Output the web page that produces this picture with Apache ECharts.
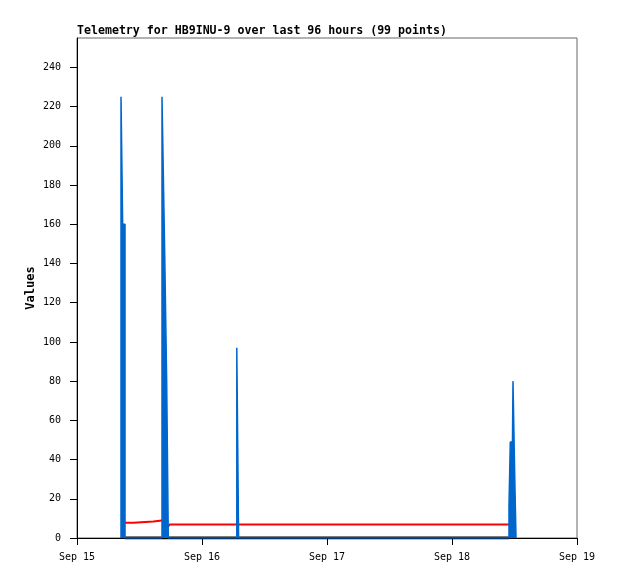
<!DOCTYPE html>
<html>
<head>
<meta charset="utf-8">
<script src="https://cdn.jsdelivr.net/npm/echarts@6/dist/echarts.min.js"></script>
<style>
html,body{margin:0;padding:0;background:#fff;}
#chart{width:618px;height:579px;}
</style>
</head>
<body>
<div id="chart"></div>
<script>
// Hours after Sep 15 00:00
const xTickLabels = ["Sep 15", "Sep 16", "Sep 17", "Sep 18", "Sep 19"];
const yTicks = [0, 20, 40, 60, 80, 100, 120, 140, 160, 180, 200, 220, 240];

// Blue channel (step values: value held from time until next point)
const blueTimes  = [8.45, 8.77, 9.22, 16.32, 16.65, 16.84, 17.22, 17.53, 30.68, 31.03, 82.94, 83.19, 83.58, 83.71, 84.04, 84.29];
const blueValues = [225,  160,  0,    225,   174,   145,   80,    0,     97,    0,     16,    49,    40,    80,    32,    0];

// Red channel (null = gap)
const redTimes  = [8.45, 10.81, 14.65, 16.32, null, 17.53, 17.76, 82.94];
const redValues = [7.8,  8.4,   8.9,   8.9,   null, 5.8,   6.9,   6.9];

// Black channel
const blackTimes  = [9.18, 82.95];
const blackValues = [0, 0];

// Build step ("hold then jump") vertices from the data points
function steps(ts, vs, startFromZero) {
  const out = [];
  let prev = startFromZero ? [ts[0], 0] : null;
  if (prev) out.push(prev);
  for (let i = 0; i < ts.length; i++) {
    if (ts[i] === null) { out.push(null); prev = null; continue; }
    if (prev) out.push([ts[i], prev[1]]);
    const p = [ts[i], vs[i]];
    out.push(p);
    prev = p;
  }
  return out;
}

const chart = echarts.init(document.getElementById('chart'));
const mono = 'DejaVu Sans Mono';
const blue = '#0066cc';
chart.setOption({
  animation: false,
  backgroundColor: '#ffffff',
  title: {
    text: 'Telemetry for HB9INU-9 over last 96 hours (99 points)',
    left: 77, top: 25, padding: 0,
    textStyle: {fontFamily: mono, fontSize: 11.6, fontWeight: 'bold', color: '#000'}
  },
  grid: {left: 77, right: 41, top: 38, bottom: 41, show: true, borderColor: '#666', borderWidth: 1, backgroundColor: 'transparent'},
  xAxis: {
    type: 'value', min: 0, max: 96, interval: 24,
    axisLine: {show: true, lineStyle: {color: '#000', width: 1}},
    axisTick: {show: true, length: 7, lineStyle: {color: '#000'}},
    splitLine: {show: false},
    axisLabel: {
      margin: 14, fontFamily: mono, fontSize: 10, color: '#000',
      formatter: v => xTickLabels[Math.round(v / 24)]
    }
  },
  yAxis: {
    type: 'value', min: 0, max: 255, interval: 20,
    name: 'Values', nameLocation: 'middle', nameGap: 40, nameMoveOverlap: false,
    nameTextStyle: {fontFamily: mono, fontSize: 12, fontWeight: 'bold', color: '#000'},
    axisLine: {show: true, lineStyle: {color: '#000', width: 1}},
    axisTick: {show: true, length: 7, lineStyle: {color: '#000'}},
    splitLine: {show: false},
    axisLabel: {
      margin: 16, fontFamily: mono, fontSize: 10, color: '#000', showMaxLabel: false,
      formatter: v => (yTicks.indexOf(v) >= 0 ? String(v) : '')
    }
  },
  series: [
    {type: 'line', data: steps(blackTimes, blackValues, false), symbol: 'none',
     lineStyle: {color: '#000', width: 3}, z: 2},
    {type: 'line', data: steps(redTimes, redValues, false), symbol: 'none', connectNulls: false,
     lineStyle: {color: '#ff0000', width: 2}, z: 3},
    {type: 'line', data: steps(blueTimes, blueValues, true), symbol: 'none',
     lineStyle: {color: blue, width: 1.5}, areaStyle: {color: blue, opacity: 1}, z: 4}
  ]
});
</script>
</body>
</html>
